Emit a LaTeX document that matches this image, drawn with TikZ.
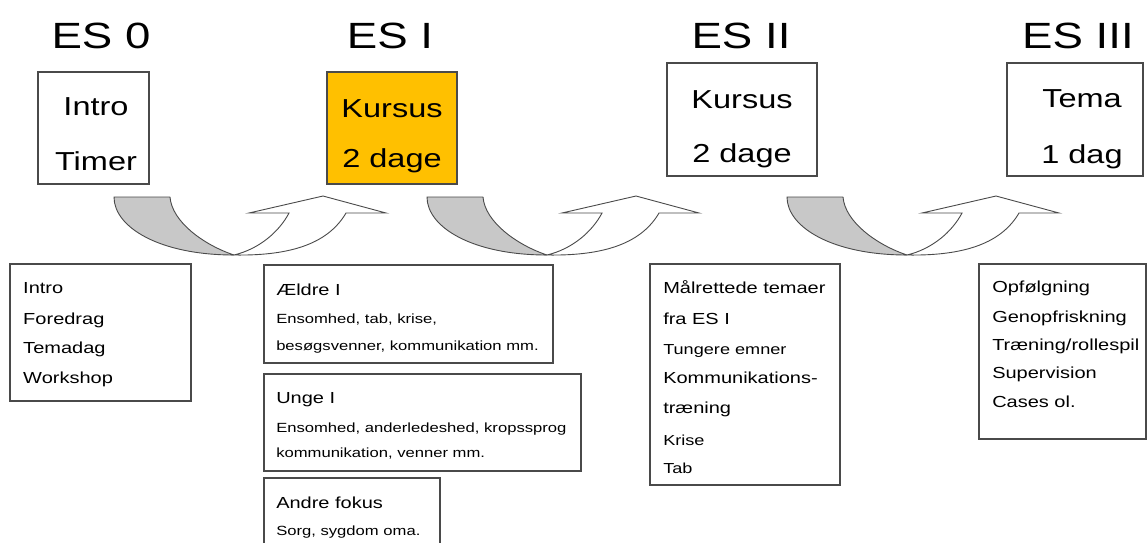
\documentclass[tikz,border=0pt]{standalone}
\usepackage{fontspec}
\setmainfont{Liberation Sans}
\definecolor{edge}{HTML}{4A4A4A}
\definecolor{amber}{HTML}{FFC000}
\definecolor{shade}{HTML}{C8C8C8}
\begin{document}
\begin{tikzpicture}[x=1pt,y=-1pt,
  frame/.style={draw=edge, line width=1.2pt, inner sep=0pt, outer sep=0pt, anchor=north west},
  txt/.style={inner sep=0pt, xscale=1.25},
  hdr/.style={txt, font=\fontsize{36.5}{40}\selectfont, anchor=base},
  big/.style={txt, font=\fontsize{26}{30}\selectfont, anchor=base},
  item/.style={txt, font=\fontsize{16}{19}\selectfont, anchor=base west},
  itemsm/.style={txt, font=\fontsize{14.5}{17}\selectfont, anchor=base west},
  small/.style={txt, font=\fontsize{13.3}{16}\selectfont, anchor=base west},
  uturn/.pic={
    % grey inbound half of the U-turn
    \path[draw=edge, line width=0.9pt, fill=shade, line join=round]
      (0,0) -- (56,0) .. controls (58,25) and (90,48) .. (120,58)
      .. controls (45,58) and (0,30) .. (0,0) -- cycle;
    % white outbound half with its arrowhead
    \path[draw=edge, line width=0.9pt, fill=white, line join=miter]
      (120,58) .. controls (145,52) and (165,35) .. (175,16)
      -- (135,16) -- (209,-1) -- (272,16) -- (232,16)
      .. controls (215,45) and (180,59) .. (120,58) -- cycle;
  }]
\useasboundingbox (0,0) rectangle (1147,542);
\clip (0,0) rectangle (1147,542);

% stage headings
\node[hdr] (h0) at (101,48) {ES 0};
\node[hdr] (h1) at (390,48) {ES I};
\node[hdr] (h2) at (741,48) {ES II};
\node[hdr] (h3) at (1078,48) {ES III};

% stage boxes
\node[frame, minimum width=111pt, minimum height=112pt] (b0) at (38,72) {};
\node[frame, fill=amber, minimum width=130pt, minimum height=112pt] (b1) at (327,72) {};
\node[frame, minimum width=150pt, minimum height=113pt] (b2) at (667,63) {};
\node[frame, minimum width=136pt, minimum height=113pt] (b3) at (1007,63) {};

\node[big] (b0a) at (96,115) {Intro};
\node[big] (b0b) at (96,170) {Timer};
\node[big] (b1a) at (392,117) {Kursus};
\node[big] (b1b) at (392,167) {2 dage};
\node[big] (b2a) at (742,108) {Kursus};
\node[big] (b2b) at (742,162) {2 dage};
\node[big] (b3a) at (1082,107) {Tema};
\node[big] (b3b) at (1082,163) {1 dag};

% U-turn arrows between stages
\pic (u1) at (114,197) {uturn};
\pic (u2) at (427,197) {uturn};
\pic (u3) at (787,197) {uturn};

% content boxes
\node[frame, minimum width=181pt, minimum height=137pt] (l0) at (10,264) {};
\node[frame, minimum width=289pt, minimum height=98pt] (la) at (264,265) {};
\node[frame, minimum width=317pt, minimum height=97pt] (lb) at (264,374) {};
\node[frame, minimum width=176pt, minimum height=90pt] (lc) at (264,478) {};
\node[frame, minimum width=190pt, minimum height=221pt] (l2) at (650,264) {};
\node[frame, minimum width=167pt, minimum height=175pt] (l3) at (979,264) {};

% ES 0 topics
\node[item] (t01) at (23,293) {Intro};
\node[item] (t02) at (23,324) {Foredrag};
\node[item] (t03) at (23,353) {Temadag};
\node[item] (t04) at (23,383) {Workshop};

% ES I topics
\node[item]  (ta1) at (276,295) {Ældre I};
\node[small] (ta2) at (276,323) {Ensomhed, tab, krise,};
\node[small] (ta3) at (276,350) {besøgsvenner, kommunikation mm.};
\node[item]  (tb1) at (276,403) {Unge I};
\node[small] (tb2) at (276,432) {Ensomhed, anderledeshed, kropssprog};
\node[small] (tb3) at (276,457) {kommunikation, venner mm.};
\node[item]  (tc1) at (276,508) {Andre fokus};
\node[small] (tc2) at (276,535) {Sorg, sygdom oma.};

% ES II topics
\node[item]   (t21) at (663,293) {Målrettede temaer};
\node[item]   (t22) at (663,324) {fra ES I};
\node[itemsm] (t23) at (663,354) {Tungere emner};
\node[item]   (t24) at (663,383) {Kommunikations-};
\node[item]   (t25) at (663,413) {træning};
\node[itemsm] (t26) at (663,445) {Krise};
\node[itemsm] (t27) at (663,473) {Tab};

% ES III topics
\node[item] (t31) at (992,292) {Opfølgning};
\node[item] (t32) at (992,322) {Genopfriskning};
\node[item] (t33) at (992,350) {Træning/rollespil};
\node[item] (t34) at (992,378) {Supervision};
\node[item] (t35) at (992,407) {Cases ol.};
\end{tikzpicture}
\end{document}
